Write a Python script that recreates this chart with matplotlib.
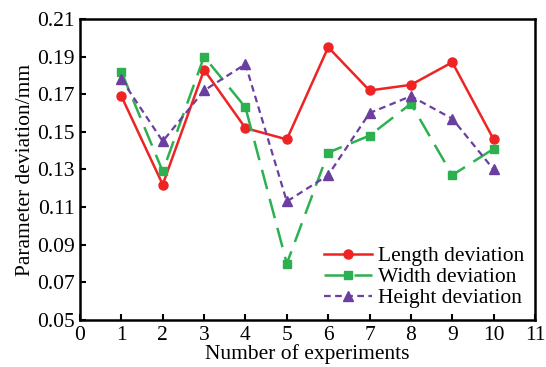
import matplotlib
matplotlib.use('Agg')
import matplotlib.pyplot as plt
import numpy as np

plt.rcParams['font.family'] = ['Liberation Serif', 'DejaVu Serif']

experiments = [1, 2, 3, 4, 5, 6, 7, 8, 9, 10]
length_dev = [0.169, 0.122, 0.183, 0.152, 0.146, 0.195, 0.172, 0.175, 0.187, 0.146]
width_dev = [0.182, 0.129, 0.190, 0.163, 0.080, 0.139, 0.148, 0.165, 0.127, 0.141]
height_dev = [0.178, 0.145, 0.172, 0.186, 0.113, 0.127, 0.160, 0.169, 0.157, 0.130]
ytick_labels = ['0.05', '0.07', '0.09', '0.11', '0.13', '0.15', '0.17', '0.19', '0.21']

fig = plt.figure(figsize=(5.46, 3.67), dpi=100)
ax = fig.add_axes([80/546, 1 - 320/367, 455/546, 301/367])

ax.plot(experiments, length_dev, color='#ee2424', linestyle='-', linewidth=1.8,
        marker='o', markersize=6.5, label='Length deviation')
ax.plot(experiments, width_dev, color='#2db04f', linestyle=(0, (8, 4)), linewidth=1.8,
        marker='s', markersize=6, label='Width deviation')
ax.plot(experiments, height_dev, color='#6a3fa0', linestyle=(0, (3, 2)), linewidth=1.6,
        marker='^', markersize=6.5, label='Height deviation')

ax.set_xlim(0, 11)
ax.set_ylim(0.05, 0.21)
ax.set_xticks(range(0, 12))
ax.set_yticks(np.linspace(0.05, 0.21, 9))
ax.set_yticklabels(ytick_labels)
ax.tick_params(direction='in', length=4, width=1.5, labelsize=15.5, top=False, right=False, pad=4)
for s in ax.spines.values():
    s.set_linewidth(1.8)

ax.set_xlabel('Number of experiments', fontsize=15.5, labelpad=0)
ax.set_ylabel('Parameter deviation/mm', fontsize=15.5, labelpad=1)

ax.legend(loc='lower right', bbox_to_anchor=(0.996, 0.01), frameon=False, fontsize=15.5,
          handlelength=2.2, handletextpad=0.3, labelspacing=0.05, borderaxespad=0.0)

fig.savefig('out.png', dpi=100)
